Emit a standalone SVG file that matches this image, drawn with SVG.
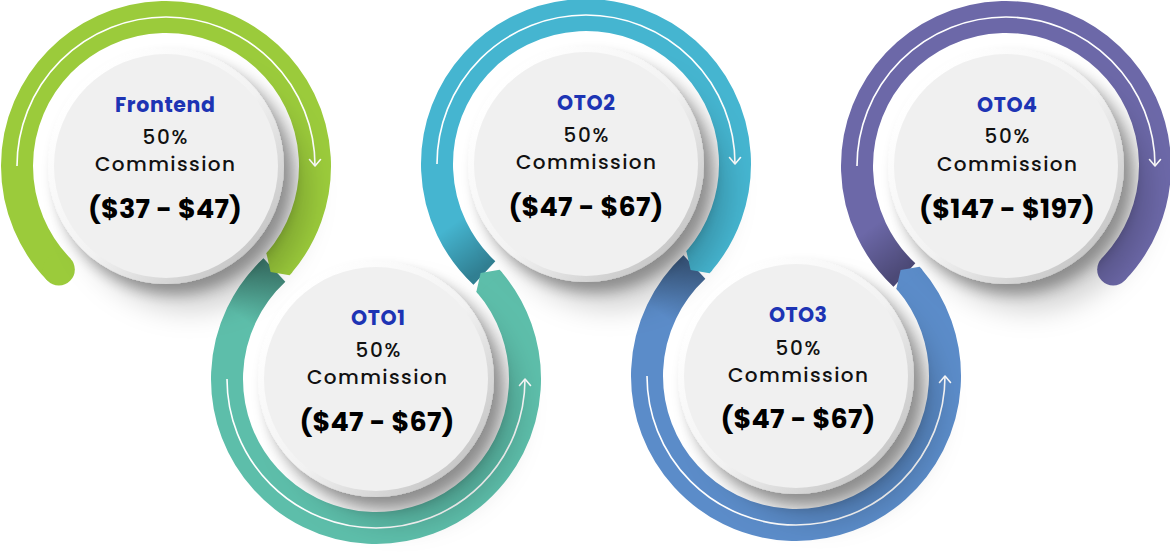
<svg xmlns="http://www.w3.org/2000/svg" xmlns:xlink="http://www.w3.org/1999/xlink" width="1170" height="552" viewBox="0 0 1170 552">
<style>
.t{font-family:Poppins,Inter,"Open Sans","Liberation Sans",sans-serif;text-anchor:middle}
.h{font-weight:700;font-size:20.5px;fill:#1D34B4}
.m{font-weight:500;font-size:20px;fill:#111}
.p{font-weight:700;font-size:27px;fill:#000}
.band{fill:none;stroke:currentColor;stroke-width:32}
.sh{fill:none;stroke:url(#shade);stroke-width:32}
.cap{fill:currentColor}
.wl{fill:none;stroke:#fff;stroke-width:1.6;marker-end:url(#arr)}
.face{fill:#F0F0F0}
.bev{fill:url(#bevel);filter:url(#shadow)}
</style>
<defs>
<marker id="arr" markerUnits="userSpaceOnUse" viewBox="-8 -7 10 14" markerWidth="10" markerHeight="14" refX="0" refY="0" orient="auto" overflow="visible">
<path d="M -6.5 -5.5 L 0 0 L -6.5 5.5" fill="none" stroke="#fff" stroke-width="1.6" stroke-linecap="round" stroke-linejoin="round"/>
</marker>
<linearGradient id="shade" gradientUnits="userSpaceOnUse" x1="-104" y1="106" x2="-136" y2="62">
<stop offset="0" stop-color="#000" stop-opacity="0.3"/>
<stop offset="1" stop-color="#000" stop-opacity="0"/>
</linearGradient>
<linearGradient id="bevel" x1="0.15" y1="0.15" x2="0.85" y2="0.85">
<stop offset="0" stop-color="#FFFFFF"/>
<stop offset="0.55" stop-color="#F2F2F2"/>
<stop offset="1" stop-color="#C9C9C9"/>
</linearGradient>
<filter id="shadow" x="-25%" y="-25%" width="160%" height="160%">
<feDropShadow in="SourceGraphic" dx="24" dy="26" stdDeviation="14" flood-color="#000" flood-opacity="0.18" result="a"/>
<feDropShadow in="SourceGraphic" dx="8" dy="10" stdDeviation="7" flood-color="#000" flood-opacity="0.33" result="b"/>
<feMerge><feMergeNode in="a"/><feMergeNode in="b"/></feMerge>
</filter>
<polygon id="chev" points="101.88,85.49 126.40,106.06 123.58,109.33 104.62,106.09 100.38,87.26"/>
<path id="wline" d="M -149 0 A 149 149 0 0 1 149 0"/>
<path id="shadeArc" d="M -101.62 108.97 A 149 149 0 0 1 -138 56"/>
<g id="ringFirst">
<path class="band" d="M -107.18 103.51 A 149 149 0 1 1 112.45 97.76"/>
<circle class="cap" cx="-107.18" cy="103.51" r="16"/>
<use href="#chev" class="cap"/>
<use href="#wline" class="wl"/>
</g>
<g id="ringMid">
<path class="band" d="M -101.62 108.97 A 149 149 0 1 1 112.45 97.76"/>
<use href="#shadeArc" class="sh"/>
<use href="#chev" class="cap"/>
<use href="#wline" class="wl"/>
</g>
<g id="ringLast">
<path class="band" d="M -101.62 108.97 A 149 149 0 1 1 107.18 103.51"/>
<use href="#shadeArc" class="sh"/>
<circle class="cap" cx="107.18" cy="103.51" r="16"/>
<use href="#wline" class="wl"/>
</g>
</defs>
<rect width="1170" height="552" fill="#fff"/>
<g id="connectors">
<use href="#ringLast" transform="translate(1006,166)" color="#6C68A8"/>
<use href="#ringMid" transform="translate(796,376) scale(1,-1)" color="#5B8CC9"/>
<use href="#ringMid" transform="translate(586,164)" color="#45B5D0"/>
<use href="#ringMid" transform="translate(376,379) scale(1,-1)" color="#5DBEAA"/>
<use href="#ringFirst" transform="translate(166,166)" color="#9BCB3B"/>
</g>
<g id="node-frontend">
<circle class="bev" cx="166" cy="166" r="118"/>
<circle class="face" cx="166" cy="166" r="112"/>
<text class="t h" x="165" y="112" textLength="100">Frontend</text>
<text class="t m" x="165" y="144" textLength="45">50%</text>
<text class="t m" x="165" y="171" textLength="140">Commission</text>
<text class="t p" x="165" y="218" textLength="154">($37 - $47)</text>
</g>
<g id="node-oto1">
<circle class="bev" cx="376" cy="379" r="118"/>
<circle class="face" cx="376" cy="379" r="112"/>
<text class="t h" x="378" y="325" textLength="54">OTO1</text>
<text class="t m" x="378" y="357" textLength="45">50%</text>
<text class="t m" x="377" y="384" textLength="140">Commission</text>
<text class="t p" x="377" y="431" textLength="155">($47 - $67)</text>
</g>
<g id="node-oto2">
<circle class="bev" cx="586" cy="164" r="118"/>
<circle class="face" cx="586" cy="164" r="112"/>
<text class="t h" x="586" y="110" textLength="58">OTO2</text>
<text class="t m" x="586" y="142" textLength="45">50%</text>
<text class="t m" x="586" y="169" textLength="140">Commission</text>
<text class="t p" x="586" y="216" textLength="155">($47 - $67)</text>
</g>
<g id="node-oto3">
<circle class="bev" cx="796" cy="376" r="118"/>
<circle class="face" cx="796" cy="376" r="112"/>
<text class="t h" x="798" y="322" textLength="58">OTO3</text>
<text class="t m" x="798" y="355" textLength="45">50%</text>
<text class="t m" x="798" y="382" textLength="140">Commission</text>
<text class="t p" x="798" y="428" textLength="155">($47 - $67)</text>
</g>
<g id="node-oto4">
<circle class="bev" cx="1006" cy="166" r="118"/>
<circle class="face" cx="1006" cy="166" r="112"/>
<text class="t h" x="1007" y="112" textLength="60">OTO4</text>
<text class="t m" x="1007" y="143" textLength="45">50%</text>
<text class="t m" x="1007" y="171" textLength="140">Commission</text>
<text class="t p" x="1007" y="218" textLength="176">($147 - $197)</text>
</g>
</svg>
